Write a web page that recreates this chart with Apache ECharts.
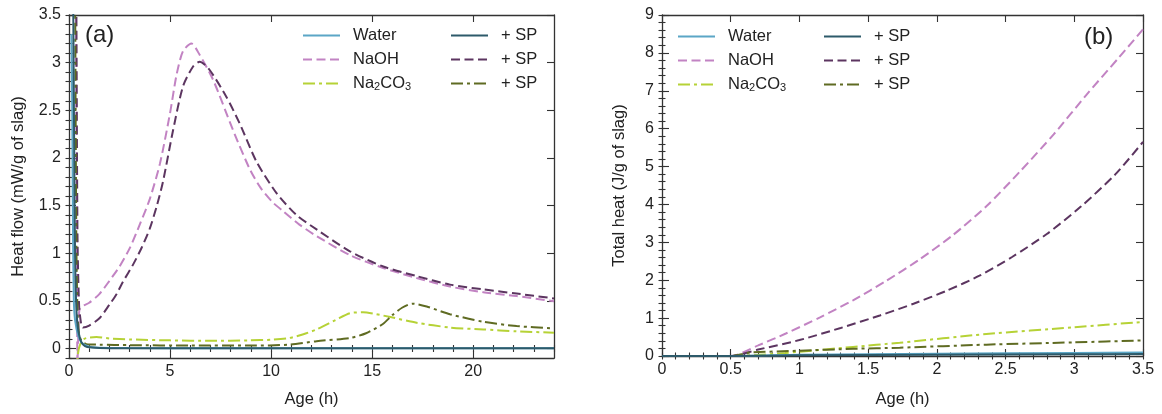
<!DOCTYPE html>
<html>
<head>
<meta charset="utf-8">
<script src="https://cdn.jsdelivr.net/npm/echarts@6/dist/echarts.min.js"></script>
<style>
  html, body { margin: 0; padding: 0; background: #fff; }
  #chart { width: 1162px; height: 414px; }
</style>
</head>
<body>
<div id="chart"></div>
<script>
// ---------- (a) heat flow, mW/g of slag, against age in hours ----------
const flowWater = [[0.12,3.3],[0.16,2.5],[0.2,1.2],[0.24,0.5],[0.3,0.3],[0.46,0.13],[0.63,0.06],[0.96,0.02],[1.5,0.008],[3,0.004],[6,0.003],[10,0.003],[15,0.002],[20,0.002],[24,0.002]];
const flowWaterSP = [[0.2,3.9],[0.26,2.0],[0.3,1.0],[0.35,0.5],[0.42,0.25],[0.55,0.1],[0.7,0.04],[0.9,0.015],[1.5,0.005],[3,0.003],[8,0.003],[16,0.002],[24,0.002]];
const flowNaOH = [[0.34,3.9],[0.38,1.5],[0.42,-0.15],[0.47,0.2],[0.53,0.42],[1.0,0.48],[1.5,0.57],[2.0,0.71],[2.5,0.86],[3.0,1.05],[3.5,1.3],[4.0,1.57],[4.5,1.94],[5.0,2.47],[5.32,2.87],[5.64,3.12],[6.06,3.2],[6.47,3.08],[7.13,2.82],[8.12,2.29],[8.95,1.88],[9.5,1.68],[10.1,1.53],[10.6,1.44],[11.4,1.3],[12.25,1.18],[13.9,0.98],[15.55,0.845],[17.2,0.74],[18.85,0.65],[20.5,0.59],[22.15,0.55],[24,0.495]];
const flowNaOHSP = [[0.36,3.9],[0.42,1.2],[0.5,0.45],[0.6,0.26],[0.69,0.22],[1.0,0.24],[1.52,0.32],[2.0,0.46],[2.35,0.57],[2.67,0.7],[3.17,0.88],[3.6,1.06],[4.0,1.26],[4.35,1.5],[4.65,1.75],[5.15,2.29],[5.64,2.75],[6.14,2.96],[6.47,3.01],[6.97,2.92],[7.79,2.64],[8.45,2.36],[9.28,1.96],[10.27,1.63],[11.26,1.4],[12.25,1.25],[13.9,1.02],[15.55,0.86],[17.2,0.76],[18.85,0.67],[20.5,0.62],[22.15,0.576],[24,0.525]];
const flowNa2CO3 = [[0.36,-0.3],[0.45,-0.05],[0.55,0.04],[0.75,0.1],[1.0,0.115],[1.36,0.12],[2.0,0.105],[3,0.095],[5,0.085],[7,0.08],[8.94,0.085],[10,0.092],[10.9,0.11],[11.6,0.15],[12.25,0.2],[13.2,0.3],[13.9,0.37],[14.55,0.38],[15.2,0.36],[15.9,0.33],[17.2,0.27],[18.85,0.22],[20.5,0.2],[22.15,0.18],[24,0.165]];
const flowNa2CO3SP = [[0.3,3.9],[0.36,1.2],[0.42,0.4],[0.5,0.15],[0.62,0.08],[0.86,0.045],[1.5,0.04],[3,0.035],[6,0.03],[8.94,0.03],[10.9,0.04],[12.25,0.077],[13.9,0.11],[14.7,0.16],[15.55,0.26],[16.0,0.35],[16.5,0.43],[17.0,0.47],[17.7,0.44],[18.85,0.36],[20.5,0.28],[22.15,0.235],[24,0.21]];

// ---------- (b) total heat, J/g of slag, against age in hours ----------
const heatWater = [[0,0],[0.5,0],[1.0,0.03],[2.0,0.06],[3.0,0.08],[3.5,0.09]];
const heatWaterSP = [[0,0],[0.5,0],[1.0,0.02],[2.0,0.035],[3.0,0.045],[3.5,0.05]];
const heatNaOH = [[0,0],[0.5,0],[0.7,0.28],[0.905,0.6],[1.15,1.02],[1.39,1.47],[1.63,1.98],[1.875,2.55],[2.12,3.2],[2.36,3.95],[2.6,4.85],[2.85,5.85],[3.09,6.9],[3.33,7.9],[3.5,8.62]];
const heatNaOHSP = [[0,0],[0.5,0],[0.7,0.17],[1.0,0.42],[1.3,0.74],[1.585,1.07],[1.83,1.38],[2.07,1.72],[2.31,2.12],[2.55,2.62],[2.8,3.22],[3.05,3.95],[3.3,4.8],[3.5,5.65]];
const heatNa2CO3 = [[0,0],[0.5,0],[0.7,0.03],[0.9,0.08],[1.39,0.24],[1.73,0.35],[2.36,0.58],[3.0,0.76],[3.5,0.9]];
const heatNa2CO3SP = [[0,0],[0.5,0],[0.64,0.09],[1.0,0.14],[1.39,0.19],[1.73,0.22],[2.36,0.3],[3.0,0.36],[3.5,0.41]];

// ---------- tick labels ----------
const flowAgeTicks = [0, 5, 10, 15, 20];
const flowTicks = [0, 0.5, 1, 1.5, 2, 2.5, 3, 3.5];
const heatAgeTicks = [0, 0.5, 1, 1.5, 2, 2.5, 3, 3.5];
const heatTicks = [0, 1, 2, 3, 4, 5, 6, 7, 8, 9];

// ---------- legend entries ----------
const legendLabels = {
  'Water': '{n|Water}',
  'NaOH': '{n|NaOH}',
  'Na2CO3': '{n|Na}{s|2}{m|CO}{s|3}',
  'Water + SP': '{n|+ SP}',
  'NaOH + SP': '{n|+ SP}',
  'Na2CO3 + SP': '{n|+ SP}'
};

const FONT = '"Liberation Sans", Arial, Helvetica, sans-serif';
const INK = '#222';
const AXIS = '#333';

const styles = {
  'Water':       { color: '#5ba6c6', type: 'solid' },
  'NaOH':        { color: '#c283c3', type: [9, 4.5] },
  'Na2CO3':      { color: '#b6d236', type: [12, 4, 3, 4] },
  'Water + SP':  { color: '#2d5a6a', type: 'solid' },
  'NaOH + SP':   { color: '#5c3560', type: [9, 4.5] },
  'Na2CO3 + SP': { color: '#5f6b22', type: [12, 4, 3, 4] }
};

function stepValues(min, max, step) {
  const out = [];
  const n = Math.round((max - min) / step);
  for (let i = 0; i <= n; i++) out.push(Math.round((min + i * step) * 1000) / 1000);
  return out;
}

// Four axes per side pair: labelled major axis, minor ticks, and the mirrored frame side.
function boxAxes(grid, horizontal, min, max, majors, minors, name, nameGap) {
  const low = horizontal ? 'bottom' : 'left';
  const high = horizontal ? 'top' : 'right';
  const base = {
    type: 'value', gridIndex: grid, min: min, max: max,
    splitLine: { show: false },
    axisLine: { show: true, onZero: false, lineStyle: { color: AXIS, width: 1.3 } }
  };
  const tickLine = { color: AXIS, width: 1.1 };
  return [
    Object.assign({}, base, {
      position: low, name: name, nameLocation: 'middle', nameGap: nameGap,
      nameTextStyle: { fontFamily: FONT, fontSize: 16.5, color: INK },
      axisTick: { show: true, inside: true, length: 7, customValues: majors, lineStyle: tickLine },
      axisLabel: { show: true, customValues: majors, fontFamily: FONT, fontSize: 16, color: INK, margin: horizontal ? 6 : 8 }
    }),
    Object.assign({}, base, {
      position: low, axisLine: { show: false },
      axisTick: { show: true, inside: true, length: 3.5, customValues: minors, lineStyle: tickLine },
      axisLabel: { show: false }
    }),
    Object.assign({}, base, {
      position: high,
      axisTick: { show: true, inside: true, length: 7, customValues: majors, lineStyle: tickLine },
      axisLabel: { show: false }
    }),
    Object.assign({}, base, {
      position: high, axisLine: { show: false },
      axisTick: { show: true, inside: true, length: 3.5, customValues: minors, lineStyle: tickLine },
      axisLabel: { show: false }
    })
  ];
}

const xAxes = [].concat(
  boxAxes(0, true, 0, 24, flowAgeTicks, stepValues(0, 24, 1), 'Age (h)', 33),
  boxAxes(1, true, 0, 3.5, heatAgeTicks, stepValues(0, 3.5, 0.1), 'Age (h)', 35)
);
const yAxes = [].concat(
  boxAxes(0, false, -0.1, 3.5, flowTicks, stepValues(-0.1, 3.5, 0.1), 'Heat flow (mW/g of slag)', 42),
  boxAxes(1, false, 0, 9, heatTicks, stepValues(0, 9, 0.2), 'Total heat (J/g of slag)', 34)
);

function lineSeries(name, data, panel) {
  const st = styles[name];
  return {
    name: name, type: 'line', data: data,
    xAxisIndex: panel * 4, yAxisIndex: panel * 4,
    symbol: 'none', smooth: 0.25, clip: true,
    lineStyle: { color: st.color, width: 2, type: st.type },
    itemStyle: { color: st.color },
    emphasis: { disabled: true },
    z: 3
  };
}

const flowData = {
  'Water': flowWater, 'NaOH': flowNaOH, 'Na2CO3': flowNa2CO3,
  'Water + SP': flowWaterSP, 'NaOH + SP': flowNaOHSP, 'Na2CO3 + SP': flowNa2CO3SP
};
const heatData = {
  'Water': heatWater, 'NaOH': heatNaOH, 'Na2CO3': heatNa2CO3,
  'Water + SP': heatWaterSP, 'NaOH + SP': heatNaOHSP, 'Na2CO3 + SP': heatNa2CO3SP
};

// drawing order: light series first, darker "+ SP" on top
const drawOrder = ['NaOH', 'NaOH + SP', 'Na2CO3', 'Na2CO3 + SP', 'Water', 'Water + SP'];
const series = [];
drawOrder.forEach(n => series.push(lineSeries(n, flowData[n], 0)));
drawOrder.forEach(n => series.push(lineSeries(n, heatData[n], 1)));

function legendColumn(names, left, top) {
  return {
    data: names, left: left, top: top, orient: 'vertical', padding: 0,
    itemWidth: 37, itemHeight: 14, itemGap: 7,
    selectedMode: false,
    itemStyle: { opacity: 0, borderWidth: 0 },
    lineStyle: { width: 2 },
    formatter: name => legendLabels[name],
    textStyle: {
      fontFamily: FONT, color: INK,
      rich: {
        n: { fontFamily: FONT, fontSize: 16.5, color: INK, lineHeight: 18, padding: [0, 0, 0, 8] },
        m: { fontFamily: FONT, fontSize: 16.5, color: INK, lineHeight: 18 },
        s: { fontFamily: FONT, fontSize: 11, color: INK, lineHeight: 10, verticalAlign: 'bottom' }
      }
    }
  };
}

const chart = echarts.init(document.getElementById('chart'), null, { renderer: 'canvas' });
chart.setOption({
  animation: false,
  backgroundColor: '#ffffff',
  title: [
    { text: '(a)', left: 85, top: 23, padding: 0, textStyle: { fontFamily: FONT, fontSize: 24, fontWeight: 'normal', color: INK } },
    { text: '(b)', left: 1084, top: 25, padding: 0, textStyle: { fontFamily: FONT, fontSize: 24, fontWeight: 'normal', color: INK } }
  ],
  grid: [
    { left: 69, top: 15, width: 485, height: 343 },
    { left: 662, top: 15, width: 481, height: 341 }
  ],
  legend: [
    legendColumn(['Water', 'NaOH', 'Na2CO3'], 302, 27),
    legendColumn(['Water + SP', 'NaOH + SP', 'Na2CO3 + SP'], 450, 27),
    legendColumn(['Water', 'NaOH', 'Na2CO3'], 677, 28),
    legendColumn(['Water + SP', 'NaOH + SP', 'Na2CO3 + SP'], 823, 28)
  ],
  xAxis: xAxes,
  yAxis: yAxes,
  series: series
});
</script>
</body>
</html>
